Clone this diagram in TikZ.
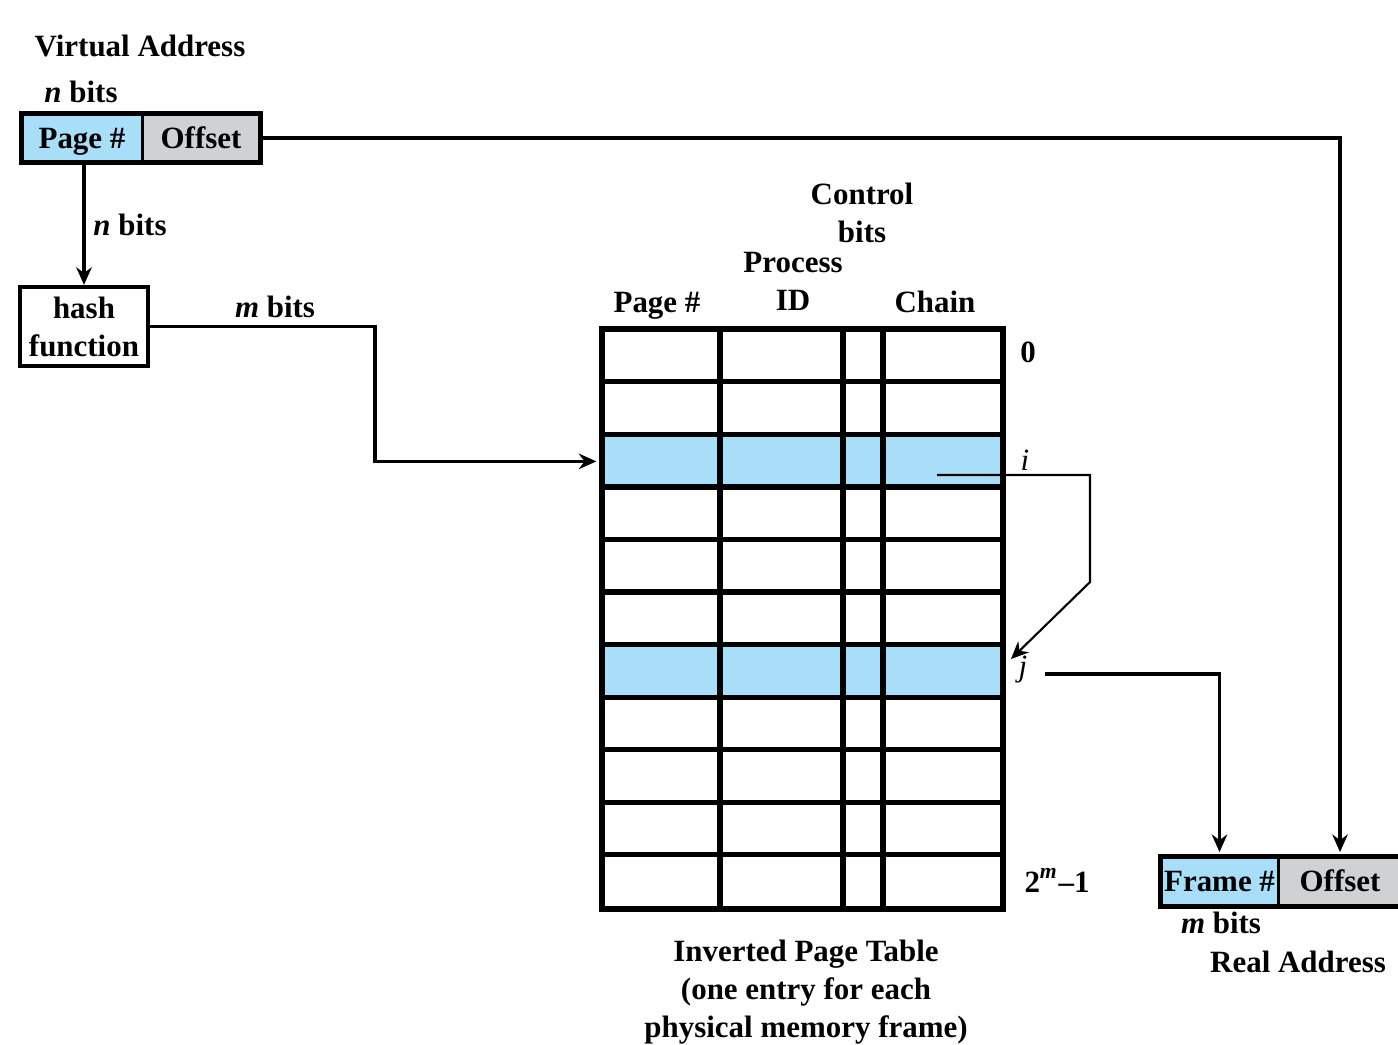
\documentclass[tikz,border=0pt]{standalone}
\usepackage{fontspec}
\setmainfont{Liberation Serif}
\usetikzlibrary{arrows.meta}
\definecolor{cellblue}{RGB}{168,222,248}
\definecolor{cellgray}{RGB}{208,209,211}
\begin{document}
\begin{tikzpicture}[x=0.01cm,y=-0.01cm]
\tikzset{every node/.style={font=\fontsize{8.8}{10.8}\selectfont\bfseries},
  txt/.style={inner sep=0pt, anchor=base},
  cell/.style={inner sep=0pt, text height=0.69em, text depth=0.1em},
  frame/.style={draw, line width=1.3pt},
  grid/.style={line width=1.5pt},
  conn/.style={line width=1pt, -{Stealth[length=5pt,width=4.4pt]}},
  chainconn/.style={line width=0.6pt, -{Stealth[length=5pt,width=4.4pt]}},
  rowcell/.style={inner sep=0pt, minimum width=4cm, minimum height=0.5255cm}}
    \useasboundingbox (0,0) rectangle (1398,1044);

    % virtual address
    \node[txt] (va) at (140,56) {Virtual Address};
    \node[txt] (vabits) at (81,102) {\textit{n} bits};
    \node[cell, fill=cellblue, minimum width=1.2cm, minimum height=0.48cm] (pg) at (82,138) {Page \#};
    \node[cell, fill=cellgray, minimum width=1.18cm, minimum height=0.48cm] (off) at (201,138) {Offset};
    \draw[frame] (pg.north west) rectangle (off.south east);
    \draw[line width=0.9pt] (pg.north east) -- (pg.south east);

    % hash function
    \node[draw, line width=1.2pt, align=center, inner sep=0pt, minimum width=1.28cm, minimum height=0.79cm] (hash) at (84,326.5) {hash\\function};
    \draw[conn] (pg.south -| hash.north) -- (hash.north);
    \node[txt] (nbits) at (130,235) {\textit{n} bits};
    \node[txt] (mbits) at (275,317) {\textit{m} bits};

    % inverted page table
    \foreach \r in {0,...,10}
      \node[rowcell] (r\r) at (802.5,{330+52.55*(\r+0.5)}) {};
    \fill[cellblue] (r2.north west) rectangle (r2.south east);
    \fill[cellblue] (r6.north west) rectangle (r6.south east);
    \foreach \r in {1,...,10}
      \draw[grid] (r\r.north west) -- (r\r.north east);
    \foreach \cx in {720,843,883}
      \draw[grid] (\cx,330) -- (\cx,908);
    \draw[frame, line width=1.7pt] (r0.north west) rectangle (r10.south east);

    \node[align=center, inner sep=0pt, anchor=north] (ctrl) at (862,182) {Control\\bits};
    \node[align=center, inner sep=0pt, anchor=north] (pid) at (793,252) {Process\\ID};
    \node[txt] (hpg) at (657,312) {Page \#};
    \node[txt] (hchain) at (935,312) {Chain};

    \node[txt] (l0) at (1028,362) {0};
    \node[txt, font=\fontsize{8.8}{10.8}\selectfont\itshape] (li) at (1025,470) {i};
    \node[txt, font=\fontsize{8.8}{10.8}\selectfont\itshape] (lj) at (1023,676) {j};
    \node[txt] (llast) at (1057,892) {2\textsuperscript{\textit{m}}–1};

    \node[align=center, inner sep=0pt, anchor=north] (cap) at (806,939) {Inverted Page Table\\(one entry for each\\physical memory frame)};

    % real address
    \node[cell, fill=cellblue, minimum width=1.17cm, minimum height=0.49cm] (fr) at (1219.5,881.5) {Frame \#};
    \node[cell, fill=cellgray, minimum width=1.2cm, minimum height=0.49cm] (ro) at (1340,881.5) {Offset};
    \draw[frame] (fr.north west) rectangle (ro.south east);
    \draw[line width=0.9pt] (fr.north east) -- (fr.south east);
    \node[txt] (rabits) at (1221,933) {\textit{m} bits};
    \node[txt] (ra) at (1298,972) {Real Address};

    % connectors
    \draw[conn, shorten >=1.5pt] (hash.east) -| (375,400) |- (r2.west);
    \coordinate (chain) at (937,475);
    \coordinate (chainbend) at (1090,582);
    \coordinate (jin) at (1011,659);
    \draw[chainconn] (chain) -| (chainbend) -- (jin);
    \coordinate (jout) at (1045,674);
    \draw[conn, shorten >=1.2pt] (jout) -| (fr.north);
    \draw[conn, shorten >=1.2pt] (off.east) -| (ro.north);
\end{tikzpicture}
\end{document}
